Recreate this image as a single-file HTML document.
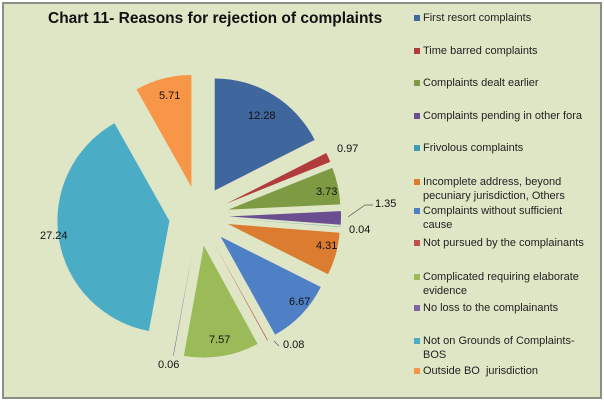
<!DOCTYPE html>
<html><head><meta charset="utf-8"><style>
html,body{margin:0;padding:0;background:#fff;}
body{width:604px;height:407px;overflow:hidden;position:relative;font-family:"Liberation Sans",sans-serif;}
#box{position:absolute;left:2px;top:2px;width:596px;height:393px;background:#dfe6c6;border:2px solid #8a8f86;}
.t{position:absolute;left:48px;top:10px;font-weight:bold;font-size:15.5px;color:#111;}
.lg{position:absolute;left:414px;font-size:11px;color:#222;line-height:14px;}
.lg i{position:absolute;left:0;top:4px;width:6px;height:6px;}
.lg span{display:block;margin-left:9px;}
</style></head><body>
<div id="box"></div>
<div class="t">Chart 11- Reasons for rejection of complaints</div>
<svg id="s" width="604" height="407" style="position:absolute;left:0;top:0"></svg>
<div class="lg" style="top:11px"><i style="background:#4169a0"></i><span>First resort complaints</span></div>
<div class="lg" style="top:44px"><i style="background:#b23c3c"></i><span>Time barred complaints</span></div>
<div class="lg" style="top:76px"><i style="background:#7e9b43"></i><span>Complaints dealt earlier</span></div>
<div class="lg" style="top:109px"><i style="background:#6a4e8f"></i><span>Complaints pending in other fora</span></div>
<div class="lg" style="top:141px"><i style="background:#3b9cb5"></i><span>Frivolous complaints</span></div>
<div class="lg" style="top:175px"><i style="background:#db7c30"></i><span>Incomplete address, beyond<br>pecuniary jurisdiction, Others</span></div>
<div class="lg" style="top:204px"><i style="background:#4f80c6"></i><span>Complaints without sufficient<br>cause</span></div>
<div class="lg" style="top:236px"><i style="background:#c0504d"></i><span>Not pursued by the complainants</span></div>
<div class="lg" style="top:270px"><i style="background:#9bbb59"></i><span>Complicated requiring elaborate<br>evidence</span></div>
<div class="lg" style="top:301px"><i style="background:#8064a2"></i><span>No loss to the complainants</span></div>
<div class="lg" style="top:334px"><i style="background:#4bacc6"></i><span>Not on Grounds of Complaints-<br>BOS</span></div>
<div class="lg" style="top:364px"><i style="background:#f79646"></i><span>Outside BO &nbsp;jurisdiction</span></div>
<script>
var v=[12.28,0.97,3.73,1.35,0.04,4.31,6.67,0.08,7.57,0.06,27.24,5.71];
var c=["#3f679e","#b23c3c","#7e9b43","#6a4e8f","#3b9cb5","#db7c30","#4f80c6","#c0504d","#9bbb59","#8064a2","#4bacc6","#f79646"];
var tot=v.reduce(function(a,b){return a+b},0),cx=199,cy=216,R=112,d=30,a=0,h="";
function p(x,y,ang,r){return [x+r*Math.sin(ang),y-r*Math.cos(ang)];}
for(var i=0;i<v.length;i++){var s=a,e=a+v[i]/tot*2*Math.PI,m=(s+e)/2;a=e;
var o=p(cx,cy,m,d),A=p(o[0],o[1],s,R),B=p(o[0],o[1],e,R);
h+='<path d="M'+o[0]+' '+o[1]+'L'+A[0]+' '+A[1]+'A'+R+' '+R+' 0 '+((e-s)>Math.PI?1:0)+' 1 '+B[0]+' '+B[1]+'Z" fill="'+c[i]+'"/>';}
var L=[["12.28",248,119],["5.71",159,99],["27.24",40,239],["7.57",209,343],["6.67",289,305],["4.31",316,249],["3.73",316,195],["0.97",337,152],["1.35",375,207],["0.04",349,233],["0.08",283,348],["0.06",158,368]];
h+='<path d="M348 217 L365 205 L373 205 M279 346 L274 341" stroke="#555" stroke-width="0.7" fill="none"/>';
L.forEach(function(l){h+='<text x="'+l[1]+'" y="'+l[2]+'" font-size="11" fill="#111" font-family="Liberation Sans, sans-serif">'+l[0]+'</text>';});
document.getElementById("s").innerHTML=h;
</script>
</body></html>
